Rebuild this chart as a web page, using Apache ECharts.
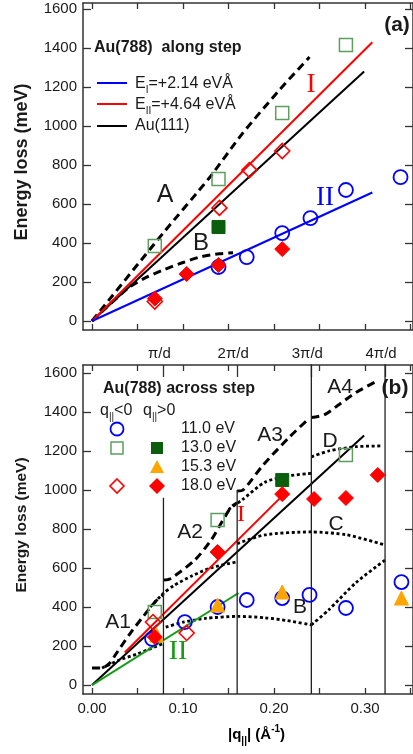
<!DOCTYPE html>
<html><head><meta charset="utf-8">
<script src="https://cdn.jsdelivr.net/npm/echarts@6/dist/echarts.min.js"></script>
<style>html,body{margin:0;padding:0;background:#fff}#c{width:413px;height:754px}</style>
</head><body><div id="c"></div>
<script>
// ---------------- data ----------------
const qTicks = [0, 0.05, 0.10, 0.15, 0.20, 0.25, 0.30, 0.35];
const qLabels = [0, 0.10, 0.20, 0.30];
const eTicks = [0, 200, 400, 600, 800, 1000, 1200, 1400, 1600];
const zoneQ = [0.0785, 0.1595, 0.241, 0.322];
const zoneLabels = ['π/d', '2π/d', '3π/d', '4π/d'];
const zoneLineTop = [960, 1000, 1700, 1700];

// panel (a) – along step
const aLineI = [[0, 0], [0.308, 1430]];
const aLineII = [[0, 0], [0.308, 659]];
const au111Line = [[0, 0], [0.299, 1280]];
const aCurveA = [[0, 0], [0.078, 450], [0.129, 735], [0.165, 960], [0.206, 1185], [0.239, 1354]];
const aCurveB = [[0, 0], [0.04, 170], [0.06, 225], [0.08, 265], [0.10, 300], [0.12, 330], [0.14, 345], [0.155, 350]];
const aCircles = [[0.139, 277], [0.170, 328], [0.209, 451], [0.240, 528], [0.279, 672], [0.339, 738]];
const aSquaresOpen = [[0.069, 385], [0.139, 728], [0.209, 1067], [0.279, 1415]];
const aSquaresFilled = [[0.139, 482]];
const aDiamondsOpen = [[0.069, 100], [0.140, 580], [0.173, 774], [0.209, 872]];
const aDiamondsFilled = [[0.069, 115], [0.104, 241], [0.139, 287], [0.209, 369]];

// panel (b) – across step
const bLineI = [[0.036, 167], [0.209, 970]];
const bLineII = [[0, 0], [0.161, 472]];
const bA1 = [[0, 87], [0.011, 87], [0.02, 115], [0.025, 150], [0.042, 265], [0.056, 350], [0.069, 425], [0.0785, 465]];
const bA2 = [[0.0785, 538], [0.086, 545], [0.113, 641], [0.131, 744], [0.142, 831], [0.153, 913], [0.1595, 935]];
const bA3 = [[0.1595, 995], [0.166, 1000], [0.188, 1128], [0.217, 1272], [0.239, 1369]];
const bA4 = [[0.241, 1372], [0.255, 1385], [0.272, 1440], [0.29, 1500], [0.312, 1556]];
const bB1 = [[0.011, 87], [0.03, 128], [0.05, 160], [0.0785, 213]];
const bB2 = [[0.081, 297], [0.10, 322], [0.125, 342], [0.16, 352], [0.19, 345], [0.215, 330], [0.241, 308]];
const bB3 = [[0.241, 308], [0.26, 385], [0.29, 525], [0.322, 641]];
const bC1 = [[0.064, 400], [0.0785, 470], [0.09, 510], [0.11, 560], [0.13, 600], [0.1595, 632]];
const bC2 = [[0.1595, 725], [0.19, 770], [0.24, 785], [0.28, 770], [0.322, 718]];
const bA2dot = [[0.15, 900], [0.165, 950], [0.19, 1040], [0.215, 1072], [0.241, 1085]];
const bD = [[0.241, 1170], [0.26, 1200], [0.29, 1222], [0.318, 1226]];
const bCircles11 = [[0.066, 236], [0.102, 323], [0.138, 400], [0.170, 436], [0.209, 446], [0.239, 462], [0.279, 395], [0.340, 528]];
const bSquaresOpen13 = [[0.069, 374], [0.138, 846], [0.279, 1179]];
const bSquaresFilled13 = [[0.209, 1051]];
const bTriangles15 = [[0.071, 256], [0.138, 410], [0.209, 477], [0.340, 446]];
const bDiamondsOpen18 = [[0.067, 323], [0.104, 267]];
const bDiamondsFilled18 = [[0.069, 246], [0.138, 682], [0.209, 979], [0.244, 954], [0.279, 959], [0.314, 1077]];

// ---------------- styling ----------------
const FONT = "'Liberation Sans', Arial, sans-serif";
const SERIF = "'Liberation Serif', 'DejaVu Serif', serif";
const AX = '#333';
const TXT = '#1a1a1a';
const XMIN = -0.0099, XMAX = 0.3527;
const BLUE = '#0000ff', RED = '#ff0000', GREEN = '#169b16', OPENGREEN = '#5f9e5f', DKGREEN = '#0b5e0b', ORANGE = '#ffa500';

function xAx(grid, pos, opts) {
  return Object.assign({
    gridIndex: grid, type: 'value', position: pos, min: XMIN, max: XMAX,
    axisLine: { show: true, onZero: false, lineStyle: { color: AX, width: 1.5 } },
    axisTick: { show: true, inside: true, length: 6, customValues: qTicks, lineStyle: { color: AX, width: 1.3 } },
    axisLabel: { show: false },
    splitLine: { show: false }
  }, opts || {});
}
function yAx(grid, pos, max, showLabel) {
  return {
    gridIndex: grid, type: 'value', position: pos, min: -46, max: max,
    axisLine: { show: true, onZero: false, lineStyle: { color: AX, width: 1.5 } },
    axisTick: { show: true, inside: true, length: 8, customValues: eTicks, lineStyle: { color: AX, width: 1.3 } },
    axisLabel: { show: showLabel, customValues: eTicks, margin: 6, fontSize: 15, color: TXT, fontFamily: FONT,
      formatter: function (v) { return String(Math.round(v)); } },
    splitLine: { show: false }
  };
}
function line(data, xi, yi, color, width, type, smooth) {
  return { type: 'line', xAxisIndex: xi, yAxisIndex: yi, data: data, symbol: 'none', smooth: smooth || false,
    lineStyle: { color: color, width: width, type: type || 'solid', cap: 'butt' }, z: 2, silent: true, animation: false };
}
function dashed(data, xi, yi) { return line(data, xi, yi, '#000', 3, [8, 5], 0.25); }
function dotted(data, xi, yi) { return line(data, xi, yi, '#000', 2.8, [3, 2.6], 0.25); }
function scat(data, xi, yi, symbol, size, fill, border, bw, z) {
  return { type: 'scatter', xAxisIndex: xi, yAxisIndex: yi, data: data, symbol: symbol, symbolSize: size,
    itemStyle: { color: fill, borderColor: border, borderWidth: bw, opacity: 1 }, z: z || 5, silent: true, animation: false };
}
const NONE = 'rgba(0,0,0,0)';

const series = [
  // panel a
  dashed(aCurveA, 0, 0),
  dashed(aCurveB, 0, 0),
  line(au111Line, 0, 0, '#000', 2),
  line(aLineI, 0, 0, RED, 2),
  line(aLineII, 0, 0, BLUE, 2),
  scat(aSquaresOpen, 0, 0, 'rect', 13, NONE, OPENGREEN, 1.5),
  scat(aSquaresFilled, 0, 0, 'rect', 13, DKGREEN, DKGREEN, 1),
  scat(aCircles, 0, 0, 'circle', 14, NONE, BLUE, 1.8),
  scat(aDiamondsOpen, 0, 0, 'diamond', 15, NONE, RED, 1.6),
  scat(aDiamondsFilled, 0, 0, 'diamond', 15, RED, RED, 1),
  // panel b
  dashed(bA1, 2, 2), dashed(bA2, 2, 2), dashed(bA3, 2, 2), dashed(bA4, 2, 2),
  dotted(bB1, 2, 2), dotted(bB2, 2, 2), dotted(bB3, 2, 2),
  dotted(bC1, 2, 2), dotted(bC2, 2, 2), dotted(bA2dot, 2, 2), dotted(bD, 2, 2),
  line(au111Line, 2, 2, '#000', 2),
  line(bLineI, 2, 2, RED, 2),
  line(bLineII, 2, 2, GREEN, 2),
  scat(bCircles11, 2, 2, 'circle', 14, NONE, BLUE, 1.8),
  scat(bTriangles15, 2, 2, 'triangle', 14, ORANGE, ORANGE, 1, 6),
  scat(bSquaresOpen13, 2, 2, 'rect', 13, NONE, OPENGREEN, 1.5),
  scat(bSquaresFilled13, 2, 2, 'rect', 13, DKGREEN, DKGREEN, 1),
  scat(bDiamondsOpen18, 2, 2, 'diamond', 15, NONE, RED, 1.6),
  scat(bDiamondsFilled18, 2, 2, 'diamond', 15, RED, RED, 1, 7)
];
// zone-boundary vertical lines in panel b
zoneQ.forEach(function (q, i) {
  series.push(line([[q, zoneLineTop[i]], [q, -46]], 2, 2, '#222', 1.3));
});

const rich = {
  n: { fontSize: 16, fontFamily: FONT, color: TXT, lineHeight: 22, verticalAlign: 'middle' },
  s: { fontSize: 10, fontFamily: FONT, color: TXT, lineHeight: 10, verticalAlign: 'bottom' }
};
const richB = {
  n: { fontSize: 15, fontFamily: FONT, fontWeight: 'bold', color: TXT, lineHeight: 22, verticalAlign: 'middle' },
  s: { fontSize: 10, fontFamily: FONT, fontWeight: 'bold', color: TXT, lineHeight: 10, verticalAlign: 'bottom' },
  u: { fontSize: 10, fontFamily: FONT, fontWeight: 'bold', color: TXT, lineHeight: 10, verticalAlign: 'top' }
};
function txt(x, y, text, size, opts) {
  return { type: 'text', x: x, y: y, z: 20, silent: true,
    style: Object.assign({ text: text, fontSize: size, fontFamily: FONT, fill: TXT, align: 'center', verticalAlign: 'middle' }, opts || {}) };
}
function rtxt(x, y, text, r) {
  return { type: 'text', x: x, y: y, z: 20, silent: true,
    style: { text: text, rich: r, align: 'left', verticalAlign: 'middle', fill: TXT } };
}

const yTitleA = txt(22, 162, 'Energy loss (meV)', 18, { fontWeight: 'bold' });
yTitleA.rotation = Math.PI / 2;
const yTitleB = txt(22, 525, 'Energy loss (meV)', 15.5, { fontWeight: 'bold' });
yTitleB.rotation = Math.PI / 2;

const graphics = [
  // panel a annotations
  txt(397, 25, '(a)', 21, { fontWeight: 'bold' }),
  txt(94, 48, 'Au(788)  along step', 16, { fontWeight: 'bold', align: 'left' }),
  { type: 'line', shape: { x1: 97, y1: 83, x2: 127, y2: 83 }, style: { stroke: BLUE, lineWidth: 2 }, z: 20 },
  { type: 'line', shape: { x1: 97, y1: 104, x2: 127, y2: 104 }, style: { stroke: RED, lineWidth: 2 }, z: 20 },
  { type: 'line', shape: { x1: 97, y1: 126, x2: 127, y2: 126 }, style: { stroke: '#000', lineWidth: 2 }, z: 20 },
  rtxt(135, 84, '{n|E}{s|I}{n|=+2.14 eVÅ}', rich),
  rtxt(135, 105, '{n|E}{s|II}{n|=+4.64 eVÅ}', rich),
  rtxt(135, 126, '{n|Au(111)}', rich),
  txt(165, 195, 'A', 25),
  txt(201, 243, 'B', 24),
  txt(311, 85, 'I', 27, { fill: RED, fontFamily: SERIF }),
  txt(325, 198, 'II', 27, { fill: BLUE, fontFamily: SERIF }),
  yTitleA,
  // panel b annotations
  txt(395, 388, '(b)', 21, { fontWeight: 'bold' }),
  txt(103, 389, 'Au(788) across step', 16, { fontWeight: 'bold', align: 'left' }),
  rtxt(100, 411, '{n|q}{s|||}{n|<0}', rich),
  rtxt(143, 411, '{n|q}{s|||}{n|>0}', rich),
  { type: 'circle', shape: { cx: 117, cy: 429, r: 6.5 }, style: { fill: 'none', stroke: BLUE, lineWidth: 1.8 }, z: 20 },
  { type: 'rect', shape: { x: 111, y: 442, width: 12, height: 12 }, style: { fill: 'none', stroke: OPENGREEN, lineWidth: 1.5 }, z: 20 },
  { type: 'rect', shape: { x: 151, y: 442, width: 12, height: 12 }, style: { fill: DKGREEN }, z: 20 },
  { type: 'polygon', shape: { points: [[157, 460], [164, 473], [150, 473]] }, style: { fill: ORANGE }, z: 20 },
  { type: 'polygon', shape: { points: [[117, 479], [124, 486], [117, 493], [110, 486]] }, style: { fill: 'none', stroke: RED, lineWidth: 1.6 }, z: 20 },
  { type: 'polygon', shape: { points: [[157, 478], [165, 486], [157, 494], [149, 486]] }, style: { fill: RED }, z: 20 },
  txt(181, 429, '11.0 eV', 16, { align: 'left' }),
  txt(181, 448, '13.0 eV', 16, { align: 'left' }),
  txt(181, 467, '15.3 eV', 16, { align: 'left' }),
  txt(181, 486, '18.0 eV', 16, { align: 'left' }),
  txt(118, 622, 'A1', 21),
  txt(190, 532, 'A2', 21),
  txt(270, 435, 'A3', 21),
  txt(340, 387, 'A4', 21),
  txt(330, 441, 'D', 21),
  txt(336, 524, 'C', 21),
  txt(300, 607, 'B', 21),
  txt(241, 515, 'I', 24, { fill: RED, fontFamily: SERIF }),
  txt(178, 652, 'II', 28, { fill: GREEN, fontFamily: SERIF }),
  yTitleB,
  { type: 'text', x: 228, y: 735, z: 20, silent: true,
    style: { text: '{n||q}{s|||}{n|| (Å}{u|-1}{n|)}', rich: richB, align: 'left', verticalAlign: 'middle' } }
];

const option = {
  backgroundColor: '#fff',
  animation: false,
  textStyle: { fontFamily: FONT },
  grid: [
    { left: 83, top: 3, width: 331, height: 327 },
    { left: 83, top: 365, width: 331, height: 329 }
  ],
  xAxis: [
    xAx(0, 'bottom'),
    xAx(0, 'top'),
    xAx(1, 'bottom', { axisLabel: { show: true, customValues: qLabels, margin: 7, fontSize: 15, color: TXT, fontFamily: FONT,
      formatter: function (v) { return v.toFixed(2); } } }),
    xAx(1, 'top'),
    xAx(1, 'top', {
      axisLine: { show: false, onZero: false },
      axisTick: { show: true, inside: true, length: 12, customValues: zoneQ, lineStyle: { color: AX, width: 1.3 } },
      axisLabel: { show: true, customValues: zoneQ, margin: 4, fontSize: 15, color: TXT, fontFamily: FONT, padding: [0, 8, 0, 0],
        formatter: function (v) {
          let best = 0;
          zoneQ.forEach(function (z, i) { if (Math.abs(z - v) < Math.abs(zoneQ[best] - v)) best = i; });
          return zoneLabels[best];
        } }
    })
  ],
  yAxis: [
    yAx(0, 'left', 1631, true),
    yAx(0, 'right', 1631, false),
    yAx(1, 'left', 1641, true),
    yAx(1, 'right', 1641, false)
  ],
  series: series,
  graphic: graphics
};

const chart = echarts.init(document.getElementById('c'), null, { renderer: 'canvas' });
chart.setOption(option);
</script>
</body></html>
